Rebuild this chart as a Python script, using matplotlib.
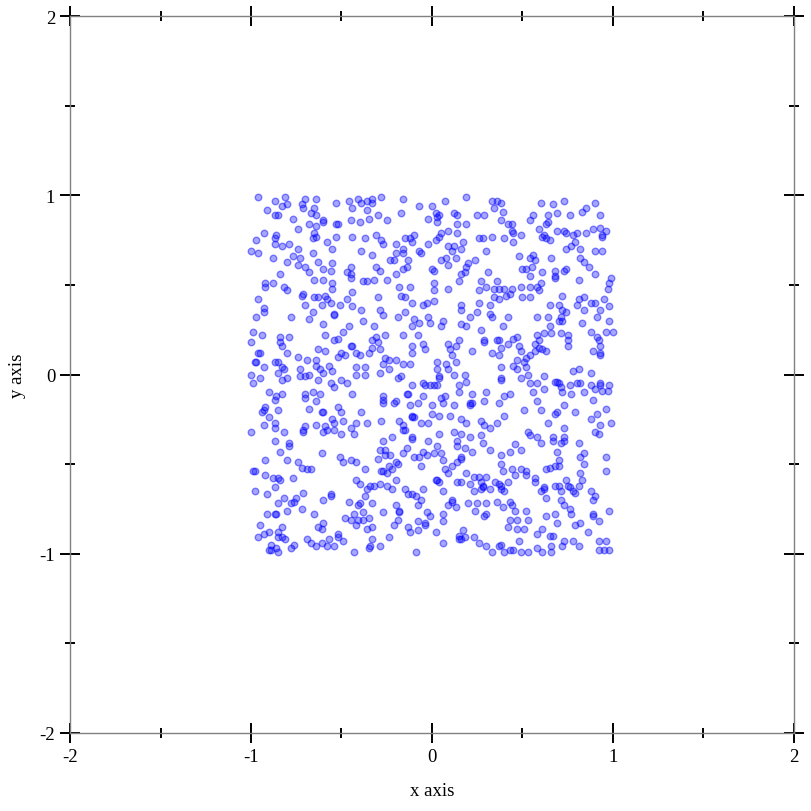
import matplotlib
matplotlib.use('Agg')
import matplotlib.pyplot as plt
from matplotlib.ticker import MultipleLocator
import numpy as np

# points, grouped by region of the square
upper_left = [
    (-0.96, 0.99), (-0.87, 0.97), (-0.81, 0.99), (-0.80, 0.95), (-0.83, 0.94), (-0.72, 0.95),
    (-0.70, 0.98), (-0.64, 0.98), (-0.71, 0.93), (-0.65, 0.93), (-0.53, 0.96), (-0.46, 0.97),
    (-0.44, 0.93), (-0.41, 0.98), (-0.39, 0.96), (-0.36, 0.97), (-0.36, 0.92), (-0.91, 0.92),
    (-0.87, 0.89), (-0.85, 0.89), (-0.67, 0.90), (-0.64, 0.89), (-0.77, 0.87), (-0.68, 0.84),
    (-0.60, 0.86), (-0.60, 0.85), (-0.53, 0.84), (-0.52, 0.84), (-0.45, 0.86), (-0.40, 0.85),
    (-0.35, 0.87), (-0.93, 0.79), (-0.86, 0.78), (-0.87, 0.76), (-0.97, 0.75), (-0.87, 0.73),
    (-0.74, 0.81), (-0.64, 0.83), (-0.65, 0.79), (-0.66, 0.76), (-0.64, 0.77), (-0.58, 0.74),
    (-0.53, 0.77), (-0.44, 0.77), (-0.37, 0.76), (-0.83, 0.72), (-0.79, 0.73), (-0.74, 0.70),
    (-1.00, 0.69), (-0.96, 0.68), (-0.88, 0.65), (-0.66, 0.68), (-0.55, 0.70), (-0.39, 0.69),
    (-0.77, 0.66), (-0.80, 0.63), (-0.73, 0.65), (-0.74, 0.61), (-0.63, 0.63), (-0.70, 0.60),
    (-0.68, 0.57), (-0.60, 0.59), (-0.56, 0.58), (-0.55, 0.62), (-0.47, 0.57), (-0.45, 0.60),
    (-0.45, 0.56), (-0.45, 0.54), (-0.84, 0.56), (-0.92, 0.51), (-0.92, 0.49), (-0.88, 0.51),
    (-0.65, 0.53), (-0.60, 0.53), (-0.55, 0.51), (-0.55, 0.48), (-0.38, 0.52), (-0.36, 0.52),
    (-0.82, 0.49), (-0.80, 0.47), (-0.71, 0.45), (-0.72, 0.44), (-0.65, 0.43), (-0.63, 0.43),
    (-0.59, 0.44), (-0.58, 0.42), (-0.47, 0.42), (-0.44, 0.46), (-0.96, 0.42), (-0.93, 0.37),
    (-0.93, 0.35), (-0.70, 0.39), (-0.61, 0.39), (-0.56, 0.40), (-0.51, 0.39), (-0.44, 0.38),
    (-0.39, 0.36), (-0.66, 0.35), (-0.54, 0.34),
]

upper_mid = [
    (-0.28, 0.99), (-0.33, 0.98), (-0.33, 0.96), (-0.16, 0.98), (-0.07, 0.94), (0.00, 0.94),
    (0.07, 0.97), (0.19, 0.99), (0.33, 0.97), (0.34, 0.93), (-0.17, 0.90), (-0.30, 0.89),
    (-0.25, 0.86), (-0.02, 0.87), (0.02, 0.90), (0.03, 0.88), (0.04, 0.89), (0.03, 0.85),
    (0.12, 0.90), (0.14, 0.89), (0.14, 0.84), (0.19, 0.84), (0.25, 0.89), (0.29, 0.89),
    (-0.31, 0.78), (-0.28, 0.75), (-0.27, 0.73), (-0.20, 0.73), (-0.15, 0.76), (-0.12, 0.76),
    (-0.11, 0.74), (-0.10, 0.78), (-0.02, 0.73), (0.02, 0.75), (0.04, 0.77), (0.05, 0.79),
    (0.09, 0.80), (0.14, 0.79), (0.17, 0.74), (0.26, 0.76), (0.28, 0.76), (0.33, 0.77),
    (-0.07, 0.69), (-0.06, 0.68), (-0.16, 0.70), (-0.16, 0.68), (-0.20, 0.68), (-0.33, 0.67),
    (0.09, 0.72), (0.12, 0.72), (0.11, 0.69), (0.16, 0.70), (0.30, 0.69), (-0.23, 0.64),
    (-0.21, 0.64), (-0.13, 0.64), (0.05, 0.64), (0.08, 0.65), (0.09, 0.61), (0.13, 0.65),
    (0.20, 0.62), (0.24, 0.64), (-0.31, 0.60), (-0.29, 0.58), (-0.16, 0.59), (-0.14, 0.60),
    (-0.00, 0.59), (0.01, 0.58), (0.19, 0.60), (0.18, 0.57), (0.16, 0.56), (0.31, 0.57),
    (-0.32, 0.53), (-0.25, 0.53), (-0.20, 0.56), (0.01, 0.51), (0.01, 0.47), (0.09, 0.48),
    (0.15, 0.52), (0.27, 0.52), (0.30, 0.49), (0.26, 0.47), (0.34, 0.48), (-0.18, 0.49),
    (-0.12, 0.49), (-0.30, 0.43), (-0.17, 0.44), (-0.15, 0.43), (-0.11, 0.40), (-0.05, 0.39),
    (-0.03, 0.40), (0.01, 0.41), (0.16, 0.39), (0.26, 0.40), (0.32, 0.39), (0.34, 0.43),
    (-0.29, 0.36), (-0.15, 0.35), (0.16, 0.36), (0.25, 0.35), (0.32, 0.34),
]

upper_right = [
    (0.36, 0.97), (0.38, 0.96), (0.39, 0.91), (0.60, 0.96), (0.67, 0.95), (0.73, 0.97),
    (0.85, 0.93), (0.83, 0.91), (0.90, 0.96), (0.64, 0.89), (0.69, 0.90), (0.76, 0.89),
    (0.93, 0.89), (0.56, 0.89), (0.54, 0.86), (0.64, 0.85), (0.63, 0.84), (0.38, 0.86),
    (0.42, 0.84), (0.44, 0.84), (0.44, 0.80), (0.45, 0.79), (0.49, 0.78), (0.40, 0.76),
    (0.45, 0.74), (0.59, 0.81), (0.61, 0.77), (0.62, 0.78), (0.63, 0.76), (0.65, 0.75),
    (0.69, 0.80), (0.73, 0.80), (0.74, 0.79), (0.78, 0.78), (0.80, 0.79), (0.85, 0.79),
    (0.89, 0.81), (0.93, 0.82), (0.96, 0.80), (0.94, 0.78), (0.94, 0.77), (0.79, 0.74),
    (0.77, 0.72), (0.74, 0.70), (0.82, 0.70), (0.90, 0.69), (0.94, 0.69), (0.48, 0.66),
    (0.54, 0.65), (0.56, 0.67), (0.57, 0.64), (0.66, 0.65), (0.82, 0.65), (0.84, 0.63),
    (0.87, 0.60), (0.90, 0.56), (0.50, 0.59), (0.52, 0.59), (0.55, 0.60), (0.54, 0.55),
    (0.61, 0.57), (0.68, 0.58), (0.68, 0.55), (0.68, 0.54), (0.73, 0.58), (0.74, 0.59),
    (0.99, 0.54), (0.98, 0.51), (0.97, 0.48), (0.81, 0.53), (0.60, 0.51), (0.36, 0.52),
    (0.37, 0.48), (0.40, 0.48), (0.44, 0.48), (0.49, 0.49), (0.54, 0.49), (0.58, 0.49),
    (0.59, 0.47), (0.41, 0.44), (0.43, 0.45), (0.50, 0.43), (0.54, 0.43), (0.72, 0.44),
    (0.37, 0.42), (0.65, 0.39), (0.70, 0.39), (0.72, 0.36), (0.74, 0.35), (0.80, 0.39),
    (0.81, 0.42), (0.84, 0.43), (0.84, 0.36), (0.88, 0.40), (0.90, 0.40), (0.95, 0.42),
    (0.98, 0.38), (0.93, 0.36),
]

middle_left = [
    (-0.97, 0.32), (-0.78, 0.32), (-0.68, 0.31), (-0.60, 0.28), (-0.54, 0.33), (-0.38, 0.30),
    (-0.46, 0.27), (-0.49, 0.24), (-0.52, 0.20), (-0.54, 0.19), (-0.59, 0.22), (-0.99, 0.24),
    (-0.94, 0.22), (-0.84, 0.21), (-0.79, 0.21), (-1.00, 0.18), (-0.84, 0.18), (-0.83, 0.16),
    (-0.96, 0.12), (-0.95, 0.12), (-0.80, 0.12), (-0.63, 0.14), (-0.59, 0.13), (-0.50, 0.12),
    (-0.52, 0.10), (-0.48, 0.11), (-0.45, 0.16), (-0.44, 0.16), (-0.42, 0.12), (-0.40, 0.11),
    (-0.35, 0.12), (-0.98, 0.07), (-0.97, 0.07), (-0.87, 0.07), (-0.93, 0.04), (-0.85, 0.07),
    (-0.83, 0.04), (-0.82, 0.03), (-0.85, 0.01), (-0.74, 0.10), (-0.69, 0.08), (-0.64, 0.08),
    (-0.64, 0.05), (-0.62, 0.03), (-0.60, 0.01), (-0.57, 0.05), (-0.55, 0.02), (-0.73, 0.03),
    (-0.42, 0.04), (-0.37, 0.04), (-1.00, 0.00), (-0.95, -0.02), (-0.99, -0.05), (-0.83, -0.03),
    (-0.80, -0.02), (-0.73, -0.01), (-0.70, -0.01), (-0.68, 0.00), (-0.63, -0.03), (-0.56, -0.05),
    (-0.54, -0.07), (-0.50, -0.03), (-0.47, -0.05), (-0.42, -0.00), (-0.37, 0.00), (-0.90, -0.10),
    (-0.87, -0.14), (-0.86, -0.12), (-0.83, -0.11), (-0.70, -0.11), (-0.70, -0.13), (-0.66, -0.10),
    (-0.62, -0.11), (-0.64, -0.15), (-0.44, -0.11), (-0.52, -0.18), (-0.68, -0.19), (-0.61, -0.21),
    (-0.60, -0.21), (-0.92, -0.18), (-0.93, -0.20), (-0.94, -0.21), (-0.85, -0.20), (-0.50, -0.21),
    (-0.39, -0.21), (-0.90, -0.24), (-0.93, -0.28), (-0.87, -0.27), (-0.87, -0.30), (-0.82, -0.32),
    (-0.70, -0.29), (-0.71, -0.31), (-0.71, -0.32), (-0.64, -0.28), (-0.59, -0.29), (-0.55, -0.25),
    (-0.54, -0.27), (-0.49, -0.26), (-0.42, -0.27), (-0.36, -0.27), (-1.00, -0.32), (-0.60, -0.32),
    (-0.58, -0.31), (-0.54, -0.31), (-0.50, -0.33), (-0.45, -0.30), (-0.43, -0.33),
]

center = [
    (-0.27, 0.33), (-0.19, 0.32), (-0.10, 0.31), (-0.07, 0.29), (-0.11, 0.27), (-0.02, 0.32),
    (-0.01, 0.29), (0.06, 0.30), (0.05, 0.27), (0.16, 0.28), (0.19, 0.27), (0.21, 0.32),
    (0.27, 0.25), (0.33, 0.32), (-0.32, 0.27), (-0.31, 0.21), (-0.33, 0.19), (-0.30, 0.18),
    (-0.29, 0.14), (-0.26, 0.22), (-0.33, 0.15), (-0.16, 0.22), (-0.08, 0.22), (-0.11, 0.16),
    (-0.05, 0.17), (-0.04, 0.14), (-0.11, 0.12), (0.09, 0.17), (0.10, 0.14), (0.13, 0.16),
    (0.15, 0.19), (0.11, 0.11), (0.22, 0.13), (0.29, 0.19), (0.29, 0.18), (0.33, 0.12),
    (-0.26, 0.09), (-0.27, 0.06), (-0.24, 0.08), (-0.20, 0.08), (-0.16, 0.06), (-0.12, 0.06),
    (-0.29, 0.01), (-0.24, 0.03), (-0.17, -0.01), (-0.19, -0.02), (0.03, 0.07), (0.03, 0.03),
    (0.04, -0.01), (0.04, -0.02), (0.08, 0.06), (0.09, 0.03), (0.13, 0.07), (0.12, 0.00),
    (0.18, 0.00), (-0.11, -0.06), (-0.05, -0.05), (-0.04, -0.06), (-0.01, -0.06), (0.01, -0.06),
    (0.03, -0.06), (0.15, -0.06), (0.19, -0.04), (-0.13, -0.11), (-0.14, -0.11), (-0.27, -0.12),
    (-0.27, -0.14), (-0.27, -0.16), (-0.21, -0.16), (-0.20, -0.15), (-0.12, -0.17), (-0.08, -0.16),
    (-0.05, -0.12), (0.00, -0.17), (0.05, -0.13), (0.06, -0.16), (0.07, -0.12), (0.12, -0.17),
    (0.15, -0.10), (0.21, -0.17), (0.22, -0.16), (0.21, -0.16), (0.22, -0.11), (0.29, -0.15),
    (0.30, -0.10), (-0.28, -0.26), (-0.18, -0.26), (-0.16, -0.28), (-0.11, -0.23), (-0.11, -0.24),
    (-0.10, -0.24), (-0.06, -0.27), (-0.02, -0.27), (0.00, -0.22), (0.04, -0.23), (0.10, -0.23),
    (0.16, -0.25), (0.19, -0.27), (0.27, -0.26), (0.29, -0.28), (0.32, -0.30), (-0.16, -0.31),
    (-0.15, -0.31), (-0.22, -0.35), (-0.11, -0.35), (0.04, -0.33), (0.12, -0.32), (0.16, -0.33),
    (0.21, -0.35), (0.27, -0.34),
]

middle_right = [
    (0.42, 0.32), (0.58, 0.32), (0.64, 0.32), (0.71, 0.32), (0.72, 0.30), (0.70, 0.30),
    (0.83, 0.29), (0.91, 0.32), (0.98, 0.30), (0.39, 0.27), (0.65, 0.27), (0.66, 0.23),
    (0.62, 0.23), (0.58, 0.22), (0.47, 0.21), (0.45, 0.20), (0.37, 0.19), (0.36, 0.19),
    (0.38, 0.15), (0.37, 0.11), (0.42, 0.17), (0.48, 0.16), (0.49, 0.13), (0.57, 0.17),
    (0.59, 0.19), (0.59, 0.15), (0.61, 0.14), (0.63, 0.13), (0.57, 0.13), (0.71, 0.23),
    (0.75, 0.22), (0.75, 0.19), (0.75, 0.16), (0.88, 0.24), (0.91, 0.21), (0.92, 0.19),
    (0.96, 0.24), (1.00, 0.24), (0.93, 0.16), (0.89, 0.13), (0.93, 0.12), (0.93, 0.11),
    (0.54, 0.11), (0.52, 0.09), (0.51, 0.07), (0.47, 0.08), (0.45, 0.05), (0.38, 0.04),
    (0.38, -0.02), (0.38, -0.03), (0.47, 0.03), (0.49, -0.02), (0.52, 0.04), (0.53, 0.00),
    (0.54, -0.05), (0.58, -0.05), (0.56, -0.10), (0.62, -0.01), (0.62, -0.08), (0.68, -0.04),
    (0.69, -0.04), (0.70, -0.05), (0.71, -0.07), (0.72, -0.10), (0.76, -0.06), (0.77, -0.11),
    (0.78, 0.02), (0.81, 0.03), (0.80, -0.05), (0.82, -0.05), (0.84, -0.10), (0.88, 0.01),
    (0.88, -0.06), (0.89, -0.14), (0.90, -0.08), (0.93, -0.05), (0.93, -0.06), (0.94, -0.09),
    (0.97, -0.09), (0.98, -0.06), (0.40, -0.12), (0.43, -0.11), (0.37, -0.16), (0.58, -0.15),
    (0.60, -0.20), (0.69, -0.21), (0.68, -0.22), (0.73, -0.17), (0.79, -0.21), (0.91, -0.22),
    (0.96, -0.19), (0.40, -0.23), (0.36, -0.27), (0.51, -0.20), (0.64, -0.27), (0.73, -0.30),
    (0.88, -0.25), (0.93, -0.28), (0.99, -0.27), (0.53, -0.32), (0.54, -0.34), (0.58, -0.35),
    (0.67, -0.35), (0.73, -0.35), (0.90, -0.32), (0.92, -0.33),
]

lower_left = [
    (-0.87, -0.37), (-0.79, -0.38), (-0.79, -0.40), (-0.84, -0.43), (-0.92, -0.48), (-0.80, -0.48),
    (-0.74, -0.49), (-0.72, -0.52), (-0.69, -0.53), (-0.67, -0.53), (-0.61, -0.44), (-0.51, -0.46),
    (-0.49, -0.49), (-0.45, -0.48), (-0.42, -0.49), (-0.37, -0.53), (-0.99, -0.54), (-0.98, -0.54),
    (-0.92, -0.56), (-0.88, -0.58), (-0.85, -0.58), (-0.84, -0.59), (-0.77, -0.58), (-0.98, -0.65),
    (-0.91, -0.67), (-0.87, -0.63), (-0.82, -0.69), (-0.85, -0.72), (-0.75, -0.69), (-0.76, -0.71),
    (-0.78, -0.72), (-0.71, -0.66), (-0.80, -0.76), (-0.72, -0.75), (-0.60, -0.70), (-0.56, -0.67),
    (-0.56, -0.68), (-0.46, -0.71), (-0.42, -0.59), (-0.40, -0.61), (-0.37, -0.68), (-0.36, -0.64),
    (-0.41, -0.73), (-0.40, -0.72), (-0.65, -0.78), (-0.91, -0.78), (-0.87, -0.78), (-0.86, -0.78),
    (-0.48, -0.80), (-0.45, -0.81), (-0.43, -0.78), (-0.41, -0.81), (-0.38, -0.77), (-0.38, -0.81),
    (-0.35, -0.80), (-0.42, -0.84), (-0.36, -0.86), (-0.95, -0.84), (-0.96, -0.91), (-0.93, -0.89),
    (-0.90, -0.88), (-0.85, -0.88), (-0.83, -0.85), (-0.85, -0.91), (-0.83, -0.91), (-0.81, -0.92),
    (-0.63, -0.85), (-0.61, -0.86), (-0.60, -0.83), (-0.52, -0.89), (-0.52, -0.91), (-0.49, -0.93),
    (-0.57, -0.92), (-0.69, -0.92), (-0.67, -0.94), (-0.64, -0.96), (-0.61, -0.94), (-0.58, -0.96),
    (-0.54, -0.96), (-0.89, -0.95), (-0.90, -0.98), (-0.89, -0.98), (-0.86, -0.97), (-0.85, -0.99),
    (-0.78, -0.97), (-0.76, -0.95), (-0.43, -0.99), (-0.35, -0.97),
]

lower_mid = [
    (-0.27, -0.37), (-0.11, -0.36), (-0.02, -0.37), (0.03, -0.40), (0.14, -0.37), (0.14, -0.40),
    (0.18, -0.41), (0.28, -0.38), (0.32, -0.42), (-0.29, -0.42), (-0.26, -0.42), (-0.30, -0.47),
    (-0.26, -0.45), (-0.23, -0.45), (-0.24, -0.51), (-0.27, -0.54), (-0.28, -0.54), (-0.25, -0.55),
    (-0.22, -0.53), (-0.20, -0.49), (-0.19, -0.50), (-0.20, -0.59), (-0.16, -0.44), (-0.14, -0.41),
    (-0.10, -0.46), (-0.07, -0.46), (-0.05, -0.43), (-0.03, -0.45), (0.01, -0.44), (0.05, -0.44),
    (-0.06, -0.51), (0.06, -0.48), (0.07, -0.53), (0.09, -0.55), (0.11, -0.51), (0.14, -0.49),
    (0.16, -0.46), (0.16, -0.47), (0.19, -0.55), (0.22, -0.43), (0.23, -0.57), (0.26, -0.57),
    (0.27, -0.60), (0.28, -0.62), (0.30, -0.57), (-0.34, -0.62), (-0.32, -0.62), (-0.29, -0.61),
    (-0.25, -0.62), (-0.22, -0.64), (-0.15, -0.64), (-0.13, -0.67), (-0.11, -0.67), (-0.09, -0.68),
    (-0.05, -0.64), (0.02, -0.59), (0.03, -0.59), (0.04, -0.60), (0.06, -0.65), (0.14, -0.60),
    (0.16, -0.60), (0.21, -0.61), (0.23, -0.65), (0.27, -0.64), (0.28, -0.63), (0.32, -0.64),
    (-0.33, -0.72), (-0.27, -0.77), (-0.20, -0.73), (-0.18, -0.76), (-0.18, -0.77), (-0.08, -0.73),
    (-0.06, -0.70), (-0.03, -0.77), (-0.01, -0.79), (0.06, -0.78), (0.09, -0.73), (0.11, -0.70),
    (0.11, -0.71), (0.13, -0.74), (0.20, -0.72), (0.25, -0.72), (0.24, -0.76), (0.30, -0.72),
    (0.29, -0.79), (0.30, -0.78), (-0.21, -0.84), (-0.19, -0.81), (-0.13, -0.85), (-0.12, -0.88),
    (-0.08, -0.87), (-0.08, -0.82), (-0.04, -0.83), (-0.04, -0.84), (0.02, -0.88), (0.06, -0.82),
    (0.17, -0.87), (0.15, -0.90), (0.15, -0.92), (0.16, -0.92), (0.18, -0.91), (0.23, -0.91),
    (0.26, -0.94), (0.30, -0.96), (0.33, -0.99), (-0.33, -0.85), (-0.33, -0.92), (-0.24, -0.91),
    (-0.29, -0.96), (-0.34, -0.96), (-0.09, -0.99), (0.06, -0.94),
]

lower_right = [
    (0.46, -0.39), (0.43, -0.43), (0.49, -0.42), (0.60, -0.38), (0.67, -0.37), (0.71, -0.38),
    (0.73, -0.37), (0.81, -0.38), (0.69, -0.43), (0.38, -0.45), (0.38, -0.50), (0.39, -0.54),
    (0.44, -0.53), (0.49, -0.53), (0.52, -0.54), (0.46, -0.56), (0.52, -0.56), (0.63, -0.53),
    (0.65, -0.52), (0.68, -0.51), (0.70, -0.51), (0.70, -0.48), (0.82, -0.46), (0.84, -0.50),
    (0.84, -0.44), (0.96, -0.46), (0.96, -0.54), (0.82, -0.55), (0.57, -0.58), (0.57, -0.60),
    (0.62, -0.63), (0.60, -0.65), (0.62, -0.64), (0.63, -0.69), (0.68, -0.62), (0.70, -0.62),
    (0.71, -0.65), (0.74, -0.59), (0.75, -0.62), (0.76, -0.63), (0.78, -0.65), (0.79, -0.66),
    (0.83, -0.59), (0.81, -0.62), (0.88, -0.65), (0.89, -0.70), (0.90, -0.68), (0.35, -0.60),
    (0.37, -0.61), (0.42, -0.60), (0.38, -0.62), (0.38, -0.64), (0.40, -0.65), (0.36, -0.71),
    (0.43, -0.71), (0.44, -0.73), (0.46, -0.76), (0.39, -0.74), (0.52, -0.76), (0.71, -0.70),
    (0.73, -0.73), (0.76, -0.75), (0.77, -0.78), (0.89, -0.78), (0.89, -0.79), (0.92, -0.82),
    (0.98, -0.76), (0.63, -0.79), (0.68, -0.78), (0.43, -0.81), (0.47, -0.81), (0.53, -0.81),
    (0.42, -0.85), (0.47, -0.86), (0.51, -0.86), (0.69, -0.83), (0.79, -0.84), (0.82, -0.83),
    (0.61, -0.86), (0.58, -0.89), (0.65, -0.90), (0.67, -0.90), (0.86, -0.88), (0.38, -0.95),
    (0.37, -0.96), (0.48, -0.93), (0.73, -0.93), (0.78, -0.93), (0.81, -0.96), (0.66, -0.96),
    (0.72, -0.96), (0.92, -0.93), (0.96, -0.93), (0.95, -0.98), (0.98, -0.98), (0.92, -0.98),
    (0.43, -0.98), (0.45, -0.98), (0.40, -0.99), (0.49, -0.99), (0.53, -0.99), (0.58, -0.97),
    (0.61, -0.99), (0.66, -0.99),
]

axis_ticks = [-2, -1, 0, 1, 2]
x_label = 'x axis'
y_label = 'y axis'


def main():
    plt.rcParams['font.family'] = ['Liberation Serif', 'DejaVu Serif']
    plt.rcParams['axes.unicode_minus'] = False

    fig = plt.figure(figsize=(8.12, 8.12), dpi=100)
    fig.set_facecolor('white')
    ax = fig.add_axes([70 / 812, 1 - 733.7 / 812, 724 / 812, 716.4 / 812])

    pts = np.array(upper_left + upper_mid + upper_right + middle_left + center
                   + middle_right + lower_left + lower_mid + lower_right)
    ax.scatter(pts[:, 0], pts[:, 1], s=22, facecolor=(0, 0, 1, 0.35),
               edgecolor=(0, 0, 1, 0.45), linewidths=1.0)

    ax.set_xlim(-2, 2)
    ax.set_ylim(-2, 2)
    ax.set_xticks(axis_ticks)
    ax.set_yticks(axis_ticks)
    ax.set_xticklabels([str(t) for t in axis_ticks])
    ax.set_yticklabels([str(t) for t in axis_ticks])
    ax.xaxis.set_minor_locator(MultipleLocator(0.5))
    ax.yaxis.set_minor_locator(MultipleLocator(0.5))

    ax.tick_params(which='both', direction='inout', top=True, right=True,
                   color='black', width=1.4, labelsize=13.5, labelcolor='black')
    ax.tick_params(which='major', length=14.4, pad=3.5)
    ax.tick_params(which='minor', length=7.2)
    for sp in ax.spines.values():
        sp.set_color('#808080')
        sp.set_linewidth(1.0)

    ax.set_xlabel(x_label, fontsize=13.5)
    ax.set_ylabel(y_label, fontsize=13.5)
    ax.xaxis.set_label_coords(0.5, -0.08)
    ax.xaxis.label.set_va('center')
    ax.yaxis.set_label_coords(-0.072, 0.5)
    ax.yaxis.label.set_va('center')

    fig.savefig('out.png', dpi=100)


if __name__ == '__main__':
    main()
